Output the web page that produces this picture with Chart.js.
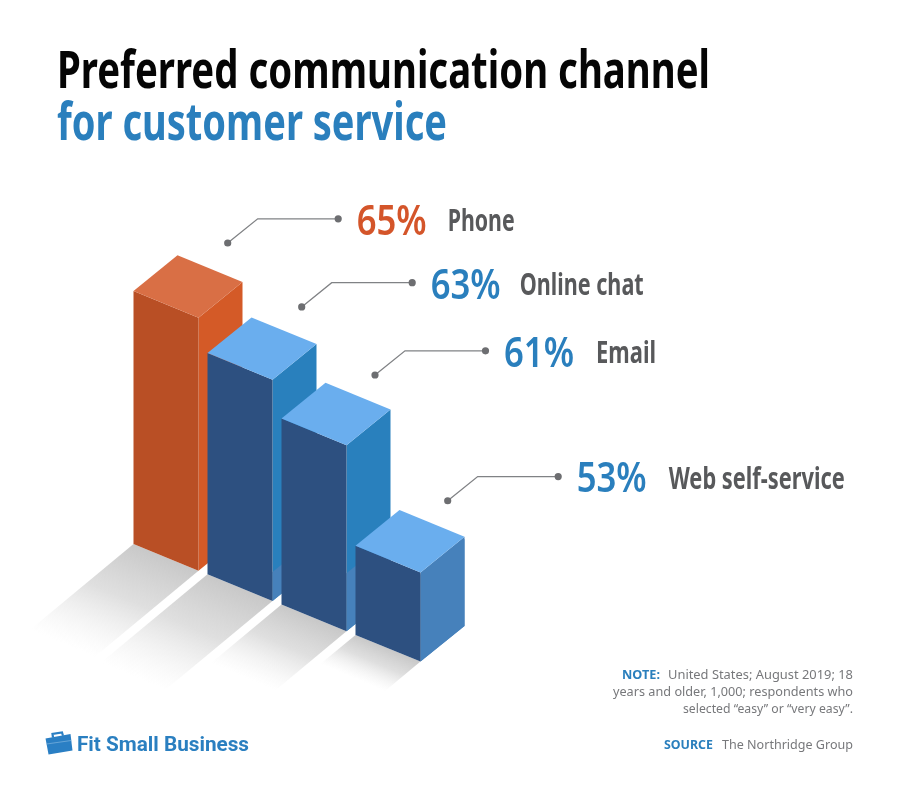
<!DOCTYPE html>
<html>
<head>
<meta charset="utf-8">
<title>Preferred communication channel</title>
<script src="https://cdn.jsdelivr.net/npm/chart.js@4"></script>
<style>
	html, body { margin: 0; padding: 0; background: #fff; }
	#page { position: relative; width: 900px; height: 798px; overflow: hidden; }
	#chart { position: absolute; left: 0; top: 0; }
	.txt { position: absolute; white-space: pre; line-height: 0; transform-origin: 0 0; font-family: "Noto Sans", sans-serif; }
	.title { font-size: 52px; font-weight: 700; }
	.note { font-size: 12.5px; color: #77787b; }
	.blue { color: #2a7fbd; }
	.noteHead { font-weight: 700; color: #2a7fbd; }
</style>
</head>
<body>
<div id="page">
	<canvas id="chart" width="900" height="798"></canvas>
	<svg style="position:absolute;left:44px;top:731px" width="30" height="25" viewBox="0 0 30 25">
		<path d="M1.5 7.5 L26.5 3 L28.5 19.5 L4.5 23.5 Z" fill="#2a7fc4"/>
		<path d="M9 6.5 L8.5 3 L18 1.5 L19 4.8" fill="none" stroke="#2a7fc4" stroke-width="2.2"/>
		<path d="M2.5 13 L27.2 9.5" stroke="#7fb5e0" stroke-width="0.7"/>
	</svg>
	<span class="txt title" data-w="653" style="left:57px;top:68px;color:#050505">Preferred communication channel</span>
	<span class="txt title blue" data-w="390" style="left:57px;top:120px">for customer service</span>
	<span class="txt" data-w="172" style="left:77px;top:744px;font:700 20px/0 Roboto,sans-serif;color:#2a7fc0">Fit Small Business</span>
	<span class="txt note noteHead" data-w="38" style="left:622px;top:675px">NOTE:</span>
	<span class="txt note" data-w="185" style="left:668px;top:675px">United States; August 2019; 18</span>
	<span class="txt note" data-w="240" style="left:613px;top:692px">years and older, 1,000; respondents who</span>
	<span class="txt note" data-w="170" style="left:683px;top:709px">selected “easy” or “very easy”.</span>
	<span class="txt note noteHead" data-w="49" style="left:664px;top:745px">SOURCE</span>
	<span class="txt note" data-w="131" style="left:722px;top:745px">The Northridge Group</span>
</div>

<script>
// datos
var categories = ["Phone", "Online chat", "Email", "Web self-service"];
var shares = [65, 63, 61, 53];
// altura de las barras tal como estan dibujadas (no siguen exacto a las etiquetas)
var barLevels = [65, 62.67, 60.1, 53];

var axisMin = 46.47;
var axisMax = 65;

// colores de las caras
var leftColors = ["#b94f25", "#2d5080", "#2d5080", "#2d5080"];
var rightColors = ["#d45a27", "#2980bd", "#2980bd", "#4681bb"];
var topColors = ["#d96f45", "#6aaeee", "#6aaeee", "#6aaeee"];
var shareColors = ["#d4552a", "#2a7fbd", "#2a7fbd", "#2a7fbd"];

// ajustes de las etiquetas
var nameWidths = [67, 124, 60, 176];
var nameShift = [220, 218, 221, 221];
var dotShift = [50.2, 50.2, 49.5, 48.2];
var dotLift = [12.3, 10.5, 7.8, 9.3];
var shadowReach = [1, 1.18, 0.93, 0.97];

var floorStep = 30.3;   // cada barra baja sobre el piso
var skewY = 26.7;
var depthX = 44;
var depthY = 35.7;

function poly(ctx, pts, fill){
	ctx.beginPath();
	ctx.moveTo(pts[0][0], pts[0][1]);
	for(var i = 1; i < pts.length; i++){
		ctx.lineTo(pts[i][0], pts[i][1]);
	}
	ctx.closePath();
	ctx.fillStyle = fill;
	ctx.fill();
}

// texto ajustado a un ancho
function fitText(ctx, text, x, y, width, font, color){
	ctx.save();
	ctx.font = font;
	ctx.fillStyle = color;
	ctx.textBaseline = 'alphabetic';
	var real = ctx.measureText(text).width;
	ctx.translate(x, y);
	ctx.scale(width / real, 1);
	ctx.fillText(text, 0, 0);
	ctx.restore();
}

var isoBars = {
	id: 'isoBars',
	afterDatasetsDraw: function(chart){
		var ctx = chart.ctx;
		var bars = chart.getDatasetMeta(0).data;
		var floor = chart.scales.y.getPixelForValue(axisMin);
		var i, b, x0, x1, top, base;

		// SOMBRAS
		for(i = 0; i < bars.length; i++){
			b = bars[i];
			x0 = b.x - b.width / 2;
			x1 = b.x + b.width / 2;
			base = floor + i * floorStep;
			var h = (floor - b.y) * shadowReach[i];
			var sx = -0.41 * h;
			var sy = 0.34 * h;
			var along = 0.92 * sy - 0.39 * sx;
			var mx = (x0 + x1) / 2;
			var my = base + skewY / 2;
			var grad = ctx.createLinearGradient(mx, my, mx - 0.39 * along, my + 0.92 * along);
			grad.addColorStop(0, 'rgba(200,200,200,1)');
			grad.addColorStop(0.45, 'rgba(215,215,215,0.8)');
			grad.addColorStop(1, 'rgba(235,235,235,0)');
			poly(ctx, [[x0, base], [x1, base + skewY], [x1 + sx, base + skewY + sy], [x0 + sx, base + sy]], grad);
		}

		// BARRAS
		for(i = 0; i < bars.length; i++){
			b = bars[i];
			x0 = b.x - b.width / 2;
			x1 = b.x + b.width / 2;
			top = b.y + i * floorStep;
			base = floor + i * floorStep;

			poly(ctx, [[x1, top + skewY], [x1 + depthX, top + skewY - depthY], [x1 + depthX, base + skewY - depthY], [x1, base + skewY]], rightColors[i]);
			// parte baja mas clara de la cara derecha
			if(i > 0){
				var band = i * 29;
				poly(ctx, [[x1, base + skewY - band], [x1 + depthX, base + skewY - depthY - band], [x1 + depthX, base + skewY - depthY], [x1, base + skewY]], '#4681bb');
			}
			poly(ctx, [[x0, top], [x1, top + skewY], [x1, base + skewY], [x0, base]], leftColors[i]);
			poly(ctx, [[x0, top], [x0 + depthX, top - depthY], [x1 + depthX, top + skewY - depthY], [x1, top + skewY]], topColors[i]);
		}

		// GUIAS Y ETIQUETAS
		for(i = 0; i < bars.length; i++){
			b = bars[i];
			var dx = b.x - b.width / 2 + depthX + dotShift[i];
			var dy = b.y + i * floorStep - depthY - dotLift[i];

			ctx.beginPath();
			ctx.moveTo(dx, dy);
			ctx.lineTo(dx + 30, dy - 24.2);
			ctx.lineTo(dx + 110.5, dy - 24.2);
			ctx.strokeStyle = '#808285';
			ctx.lineWidth = 1.3;
			ctx.stroke();

			ctx.fillStyle = '#6d6e71';
			ctx.beginPath();
			ctx.arc(dx, dy, 3.6, 0, Math.PI * 2);
			ctx.arc(dx + 110.5, dy - 24.2, 3.6, 0, Math.PI * 2);
			ctx.fill();

			fitText(ctx, shares[i] + '%', dx + 129, dy - 8.4, 70, '600 41px "Noto Sans"', shareColors[i]);
			fitText(ctx, categories[i], dx + nameShift[i], dy - 12, nameWidths[i], '700 29.5px "Noto Sans"', '#58595b');
		}
	}
};

var canvas = document.getElementById('chart').getContext('2d');
window.bars = new Chart(canvas, {
	type: 'bar',
	data: {
		labels: categories,
		datasets: [{
			data: barLevels,
			backgroundColor: 'rgba(0,0,0,0)',
			categoryPercentage: 1,
			barPercentage: 65 / 74
		}]
	},
	options: {
		responsive: false,
		animation: false,
		layout: { padding: { left: 129, right: 475, top: 291, bottom: 254 } },
		plugins: { legend: { display: false }, tooltip: { enabled: false } },
		scales: {
			x: { display: false },
			y: { display: false, min: axisMin, max: axisMax }
		}
	},
	plugins: [isoBars]
});

// TEXTOS HTML AJUSTADOS AL ANCHO
var spans = document.querySelectorAll('.txt');
for(var i = 0; i < spans.length; i++){
	var w = parseFloat(spans[i].getAttribute('data-w'));
	spans[i].style.transform = 'scaleX(' + (w / spans[i].getBoundingClientRect().width) + ')';
}
</script>
</body>
</html>
